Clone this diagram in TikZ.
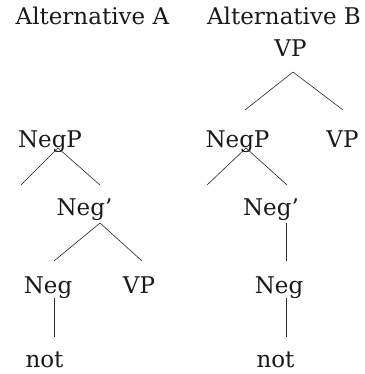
\documentclass[tikz,border=0pt]{standalone}
\usepackage{fontspec}
\setmainfont{DejaVu Serif}
\usetikzlibrary{positioning}

\begin{document}
\begin{tikzpicture}[
    x=1pt, y=-1pt,
    ttl/.style={font=\fontsize{23}{27}\selectfont, anchor=base, inner sep=0pt, black!90},
    lbl/.style={font=\fontsize{23}{27}\selectfont, anchor=base, inner sep=0pt, black!90},
    br/.style={line width=0.6pt, black!85},
]
\useasboundingbox (0,0) rectangle (364,374);
\node[ttl] (ttlA) at (92.4, 25) {Alternative A};
\node[ttl] (ttlB) at (284, 25) {Alternative B};
\node[lbl] (vpTop) at (290.5, 57) {VP};
\node[lbl] (negpA) at (50, 147) {NegP};
\node[lbl] (negpB) at (237.5, 147) {NegP};
\node[lbl] (vpB) at (342.5, 147) {VP};
\node[lbl] (negbarA) at (84.5, 215) {Neg'};
\node[lbl] (negbarB) at (271, 215) {Neg'};
\node[lbl] (negA) at (48, 293) {Neg};
\node[lbl] (vpA) at (139, 293) {VP};
\node[lbl] (negB) at (279, 293) {Neg};
\node[lbl] (notA) at (44.5, 367) {not};
\node[lbl] (notB) at (275.5, 367) {not};
\coordinate (specA) at (21, 185);
\coordinate (specB) at (207, 185);
\draw[br] ([shift={(2.5,15)}]vpTop.base) -- ([shift={(7.5,-37)}]negpB.base);
\draw[br] ([shift={(2.5,15)}]vpTop.base) -- ([shift={(0.5,-37)}]vpB.base);
\draw[br] ([shift={(8,1)}]negpA.base) -- (specA);
\draw[br] ([shift={(8,1)}]negpA.base) -- ([shift={(15.5,-30)}]negbarA.base);
\draw[br] ([shift={(8.5,1)}]negpB.base) -- (specB);
\draw[br] ([shift={(8.5,1)}]negpB.base) -- ([shift={(16,-30)}]negbarB.base);
\draw[br] ([shift={(15.5,8)}]negbarA.base) -- ([shift={(6,-32)}]negA.base);
\draw[br] ([shift={(15.5,8)}]negbarA.base) -- ([shift={(3,-32)}]vpA.base);
\draw[br] ([shift={(6,5)}]negA.base) -- ([shift={(9.5,-30)}]notA.base);
\draw[br] ([shift={(15,8)}]negbarB.base) -- ([shift={(7,-32)}]negB.base);
\draw[br] ([shift={(7,5)}]negB.base) -- ([shift={(10.5,-30)}]notB.base);
\end{tikzpicture}
\end{document}
